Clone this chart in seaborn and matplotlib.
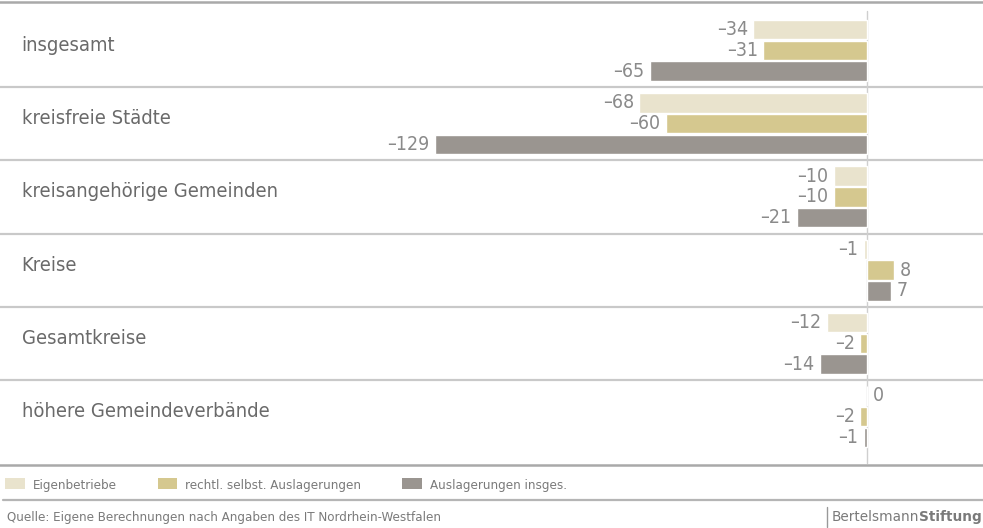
import pandas as pd
import seaborn as sns
import matplotlib.pyplot as plt
from matplotlib import font_manager
from matplotlib.patches import Patch
from matplotlib.lines import Line2D

# data
categories = ['insgesamt', 'kreisfreie Städte', 'kreisangehörige Gemeinden',
              'Kreise', 'Gesamtkreise', 'höhere Gemeindeverbände']
series = ['Eigenbetriebe', 'rechtl. selbst. Auslagerungen', 'Auslagerungen insges.']
eigen = [-34, -68, -10, -1, -12, 0]
rechtl = [-31, -60, -10, 8, -2, -2]
insges = [-65, -129, -21, 7, -14, -1]
colors = ['#e9e3cd', '#d5c88f', '#9a9590']

rows = []
for vals, s in zip([eigen, rechtl, insges], series):
    for c, v in zip(categories, vals):
        rows.append({'Kategorie': c, 'Reihe': s, 'Wert': v})
df = pd.DataFrame(rows)

# look for a narrow font, the original uses a condensed face
narrow = [f for f in font_manager.fontManager.ttflist
          if ('Condensed' in f.name or 'Narrow' in f.name or f.stretch in ('condensed', 'semi-condensed'))
          and f.weight in (400, 'normal', 'regular') and f.style == 'normal']
fam = narrow[0].name if narrow else 'DejaVu Sans'
stretch = narrow[0].stretch if narrow else 'normal'

sns.set_style('white')
plt.rcParams['font.family'] = [fam, 'DejaVu Sans']
plt.rcParams['font.stretch'] = stretch

fig = plt.figure(figsize=(9.83, 5.28), dpi=100)
ax = fig.add_axes([0, 1 - 465 / 528, 1, 463 / 528])

sns.barplot(data=df, y='Kategorie', x='Wert', hue='Reihe', orient='h',
            palette=colors, width=0.85, saturation=1, ax=ax, legend=False)

# slimmer bars with a small gap between them
for cont in ax.containers:
    for p in cont.patches:
        cy = p.get_y() + p.get_height() / 2
        p.set_height(0.265)
        p.set_y(cy - 0.1325)
    ax.bar_label(cont, fmt=lambda v: f'{v:.0f}'.replace('-', '–'),
                 padding=4, fontsize=14, color='#8a8a8a')

ax.set_xlim(-259, 34.6)
ax.set_ylim(5.66, -0.66)
ax.set_xlabel('')
ax.set_ylabel('')
ax.set_xticks([])
ax.set_yticks([])
for s in ['left', 'right']:
    ax.spines[s].set_visible(False)
for s in ['top', 'bottom']:
    ax.spines[s].set_color('#a9a9a9')
    ax.spines[s].set_linewidth(1.8)

for i in range(len(categories) - 1):
    ax.axhline(i + 0.5, color='#c9c9c9', lw=1.6, zorder=0)
ax.axvline(0, ymin=0.005, ymax=0.98, color='#cfcfcf', lw=1, zorder=0)

for i, c in enumerate(categories):
    ax.text(0.022, i - 0.07, c, transform=ax.get_yaxis_transform(),
            ha='left', va='center', fontsize=14.5, color='#6a6a6a')

# legend
handles = [Patch(facecolor=col, edgecolor='none') for col in colors]
fig.legend(handles, series, loc='center left', bbox_to_anchor=(5 / 983, 1 - 485 / 528),
           ncol=3, frameon=False, fontsize=9.5, labelcolor='#7a7a7a',
           handlelength=1.5, handleheight=0.9, handletextpad=0.6, columnspacing=3.1,
           borderaxespad=0, borderpad=0)

fig.add_artist(Line2D([0.003, 1], [1 - 500 / 528] * 2, color='#b5b5b5', lw=1.6))
fig.text(0.007, 1 - 517 / 528, 'Quelle: Eigene Berechnungen nach Angaben des IT Nordrhein-Westfalen',
         fontsize=9.5, color='#7a7a7a', va='center')

# logo text, "Stiftung" goes right after "Bertelsmann"
yl = 1 - 517 / 528
t1 = fig.text(832 / 983, yl, 'Bertelsmann', fontsize=9.8, color='#7a7a7a', va='center',
              family='DejaVu Sans', fontstretch='normal')
fig.canvas.draw()
bb = t1.get_window_extent().transformed(fig.transFigure.inverted())
fig.text(bb.x1, yl, 'Stiftung', fontsize=9.8, color='#7a7a7a', va='center',
         fontweight='bold', family='DejaVu Sans', fontstretch='normal')
fig.add_artist(Line2D([827 / 983] * 2, [1 - 507 / 528, 1 - 527 / 528], color='#999999', lw=1))

fig.savefig('out.png', dpi=100)
